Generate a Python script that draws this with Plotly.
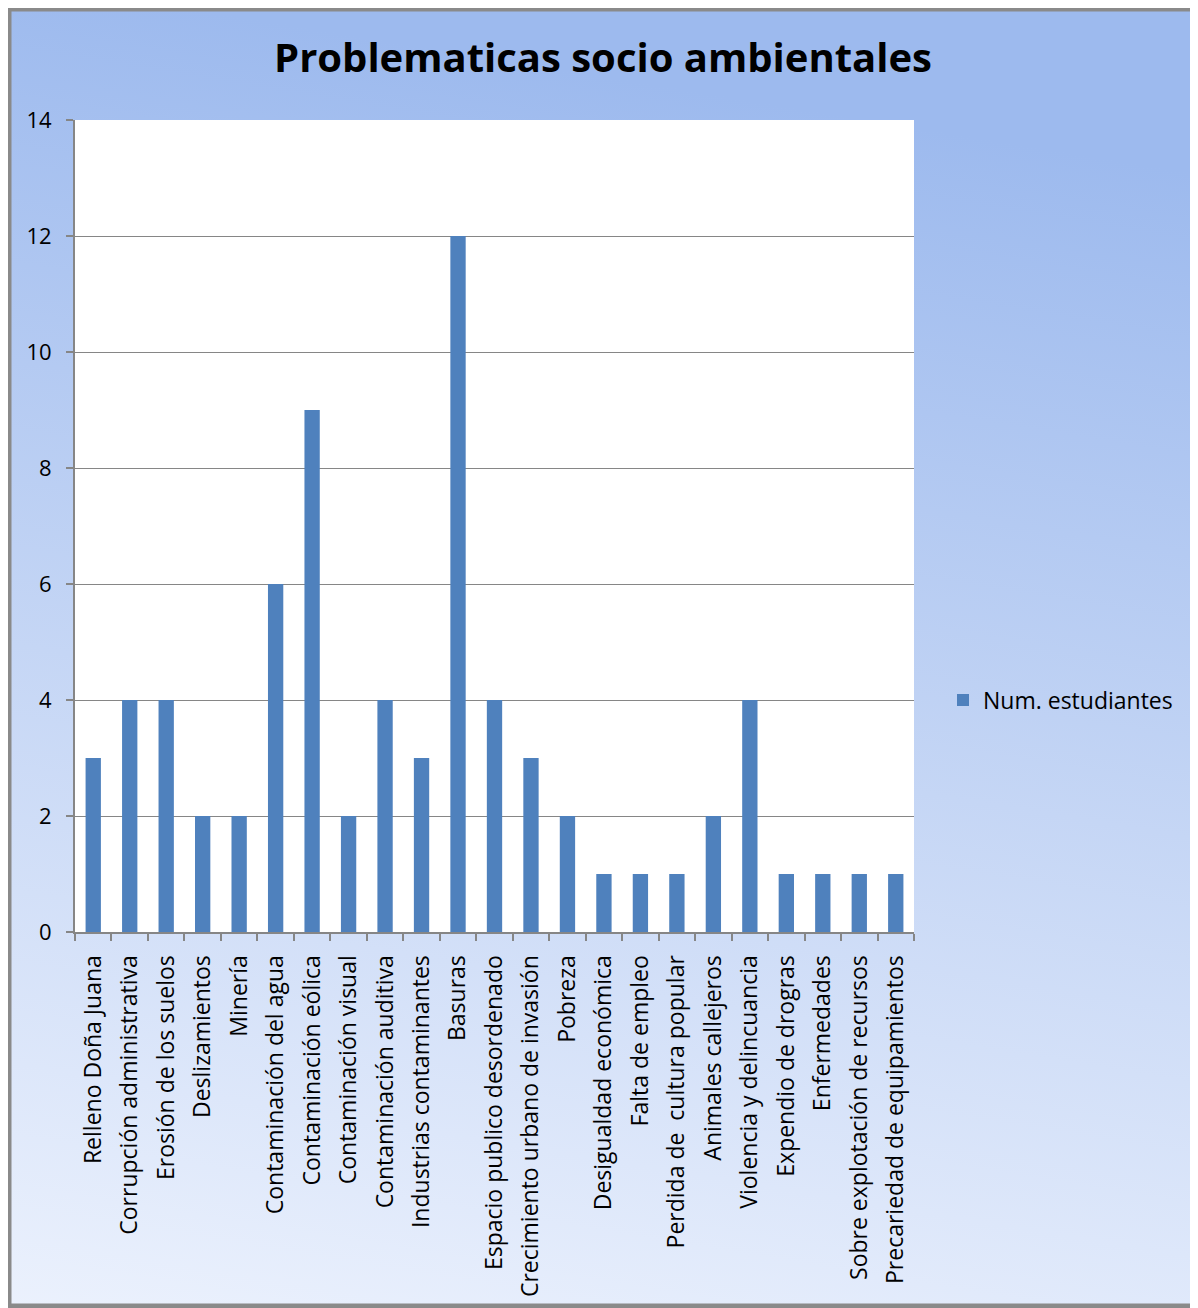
import base64
import plotly.graph_objects as go

categories = [
    "Relleno Doña Juana", "Corrupción administrativa", "Erosión de los suelos",
    "Deslizamientos", "Minería", "Contaminación del agua", "Contaminación eólica",
    "Contaminación visual", "Contaminación auditiva", "Industrias contaminantes",
    "Basuras", "Espacio publico desordenado", "Crecimiento urbano de invasión",
    "Pobreza", "Desigualdad económica", "Falta de empleo", "Perdida de  cultura popular",
    "Animales callejeros", "Violencia y delincuancia", "Expendio de drogras",
    "Enfermedades", "Sobre explotación de recursos", "Precariedad de equipamientos",
]
values = [3, 4, 4, 2, 2, 6, 9, 2, 4, 3, 12, 4, 3, 2, 1, 1, 1, 2, 4, 1, 1, 1, 1]
series_name = "Num. estudiantes"
y_ticks = [0, 2, 4, 6, 8, 10, 12, 14]

OFF = 8  # page body margin offset
W, H = 1198 - OFF, 1308 - OFF
# plot area in reference pixels: x 75..914, y 120..932
L, T = 75 - OFF, 120 - OFF
R = W - (914 - OFF)
B = H - (932 - OFF)
pw, ph = W - L - R, H - T - B

def px_x(p):
    # p is a reference pixel x
    return (p - OFF - L) / pw

def px_y(p):
    return (H - B - (p - OFF)) / ph

svg = (
    '<svg xmlns="http://www.w3.org/2000/svg" width="100" height="100" preserveAspectRatio="none">'
    '<defs><linearGradient id="g" x1="0.15" y1="0" x2="0" y2="1">'
    '<stop offset="0" stop-color="#9dbaee"/>'
    '<stop offset="0.5" stop-color="#c5d6f5"/>'
    '<stop offset="1" stop-color="#ebf1fd"/>'
    '</linearGradient></defs>'
    '<rect width="100" height="100" fill="url(#g)"/></svg>'
)
src = "data:image/svg+xml;base64," + base64.b64encode(svg.encode()).decode()

fig = go.Figure()
fig.add_trace(go.Bar(
    x=categories, y=values, name=series_name,
    marker=dict(color="#4f81bd", line=dict(width=0)),
    showlegend=True,
))

font_family = "Open Sans, Noto Sans, sans-serif"

fig.update_layout(
    width=W, height=H,
    margin=dict(l=L, r=R, t=T, b=B),
    paper_bgcolor="#dfe8fa",
    plot_bgcolor="rgba(0,0,0,0)",
    bargap=0.58,
    font=dict(family=font_family, color="black", size=22),
    title=dict(
        text="<b>Problematicas socio ambientales</b>",
        font=dict(family=font_family, size=40, color="black"),
        x=px_x(603), xref="paper", xanchor="center",
        y=1 - (58 - OFF) / H, yref="container", yanchor="middle",
    ),
    legend=dict(
        x=px_x(943), y=px_y(700), xanchor="left", yanchor="middle",
        font=dict(size=23), bgcolor="rgba(0,0,0,0)",
    ),
    xaxis=dict(
        type="category", tickangle=-90, tickson="boundaries",
        ticks="outside", ticklen=7, tickcolor="#868686", tickwidth=2,
        showline=True, linecolor="#868686", linewidth=2,
        showgrid=False, tickfont=dict(size=23), range=[-0.5, len(categories) - 0.5],
        ticklabelstandoff=12,
    ),
    yaxis=dict(
        range=[0, 14], tickvals=y_ticks, ticks="outside", ticklen=7,
        tickcolor="#868686", tickwidth=2,
        showline=True, linecolor="#868686", linewidth=2,
        showgrid=True, gridcolor="#868686", gridwidth=1,
        zeroline=False, tickfont=dict(size=22), ticklabelstandoff=10,
    ),
    images=[dict(
        source=src, xref="paper", yref="paper",
        x=-L / pw, y=1 + T / ph, sizex=W / pw, sizey=H / ph,
        xanchor="left", yanchor="top", sizing="stretch", layer="below",
    )],
    shapes=[
        dict(type="rect", xref="x domain", yref="y domain", x0=0, x1=1, y0=0, y1=1,
             fillcolor="white", line=dict(width=0), layer="below"),
        dict(type="rect", xref="paper", yref="paper",
             x0=px_x(OFF + 1), x1=px_x(1196), y0=px_y(OFF + 1), y1=px_y(1306),
             line=dict(color="#8a8a8a", width=5), fillcolor="rgba(0,0,0,0)", layer="above"),
    ],
)

fig.write_html("out.html")
